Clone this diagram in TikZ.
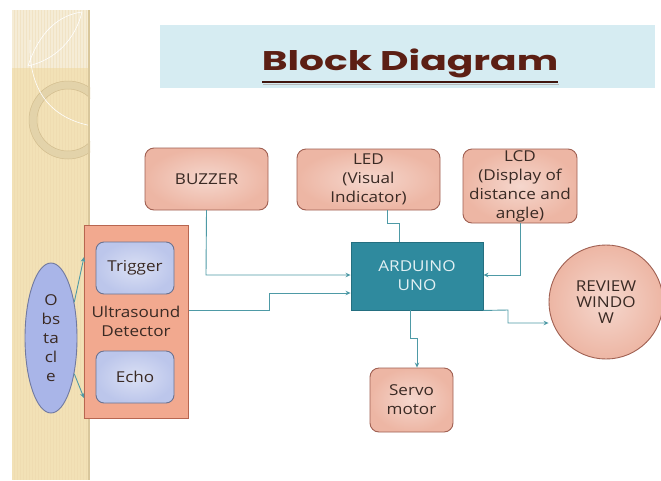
\documentclass[tikz,border=0pt]{standalone}
\usepackage{fontspec}
\setmainfont{Open Sans}[FakeStretch=1.14]
\newfontfamily\titlefont{Poppins}[FakeStretch=1.45]
\usetikzlibrary{arrows.meta,shapes.geometric}
\definecolor{band}{HTML}{F2E1B6}
\definecolor{bandtop}{HTML}{F5ECD6}
\definecolor{bandedge}{HTML}{D9C79C}
\definecolor{ringc}{HTML}{E3D3AA}
\definecolor{ringline}{HTML}{D2BD8E}
\definecolor{titlebg}{HTML}{D6ECF2}
\definecolor{titlefg}{HTML}{5C1F14}
\definecolor{pinkfill}{HTML}{EDB6A4}
\definecolor{pinkline}{HTML}{A06052}
\definecolor{usfill}{HTML}{F2A98F}
\definecolor{usline}{HTML}{B86650}
\definecolor{bluefill}{HTML}{BCC6EB}
\definecolor{blueline}{HTML}{6A7290}
\definecolor{obsfill}{HTML}{A9B5E8}
\definecolor{obsline}{HTML}{7079A0}
\definecolor{unofill}{HTML}{2F8A9E}
\definecolor{unoline}{HTML}{246F80}
\definecolor{unotext}{HTML}{E2F0F3}
\definecolor{wire}{HTML}{4E9AA6}
\definecolor{ink}{HTML}{3A2A24}
\tikzset{
  x=1pt, y=-1pt,
  every node/.style={font=\fontsize{15}{19}\selectfont, text=ink, align=center, inner sep=0pt},
  block/.style={draw=pinkline, line width=0.9pt, rounded corners=9pt,
    inner color=pinkfill!55!white, outer color=pinkfill, minimum width=#1},
  sub/.style={draw=blueline, line width=0.9pt, rounded corners=8pt,
    inner color=bluefill!55!white, outer color=bluefill, minimum width=78pt, minimum height=52pt},
  wireline/.style={draw=wire, line width=0.9pt},
  arr/.style={wireline, -{Stealth[length=5pt,width=4.5pt]}},
}
\begin{document}
\begin{tikzpicture}
\useasboundingbox (0,0) rectangle (661,480);
\fill[white] (0,0) rectangle (661,480);

% decorative side band
\fill[band] (12,10) rectangle (90,480);
\fill[bandtop] (12,10) rectangle (90,68);
\foreach \i in {14,17,...,88} \draw[band!88!brown, line width=0.3pt, opacity=0.35] (\i,10) -- (\i,480);
\begin{scope}
  \clip (12,10) rectangle (90,480);
  \fill[ringc, even odd rule] (68,120) circle (39) (68,120) circle (31);
  \draw[ringline, line width=0.5pt] (68,120) circle (39) (68,120) circle (31);
  \draw[white, line width=0.6pt] (28,66) .. controls (40,30) and (60,15) .. (82,12);
  \draw[white, line width=0.6pt] (28,66) .. controls (55,60) and (75,40) .. (82,12);
  \draw[white, line width=0.6pt] (30,40) .. controls (28,90) and (50,118) .. (92,126);
\end{scope}
\fill[bandedge] (88,10) rectangle (90,480);

% title banner
\fill[titlebg] (160,25) rectangle (655,88);
\node[font=\titlefont\fontsize{27}{30}\selectfont\bfseries, text=titlefg, anchor=base] (title) at (410,70.5) {Block Diagram};
\draw[titlefg!70!black, line width=1.8pt] (262,82) -- (558,82);
\draw[gray!55, line width=0.8pt] (263,84.3) -- (559,84.3);

% blocks
\node[block=123pt, minimum height=62pt] (buzzer) at (206.5,179) {BUZZER};
\node[block=143pt, minimum height=61pt] (led) at (368.5,179.5) {LED\\(Visual\\Indicator)};
\node[block=114pt, minimum height=74pt] (lcd) at (520,186) {LCD\\(Display of\\distance and\\angle)};
\node[draw=unoline, fill=unofill, line width=0.9pt, minimum width=132pt, minimum height=68pt,
      text=unotext] (uno) at (417,276) {ARDUINO\\UNO};
\node[block=83pt, minimum height=64pt] (servo) at (411.5,400) {Servo\\motor};
\node[circle, draw=pinkline, line width=0.9pt, inner color=pinkfill!55!white, outer color=pinkfill,
      minimum size=114pt, font=\fontsize{15}{16}\selectfont] (review) at (606,302) {REVIEW\\WINDO\\W};

% ultrasound detector with its two parts
\node[draw=usline, fill=usfill, line width=1pt, minimum width=104pt, minimum height=193pt] (us) at (136,321.5) {};
\node (uslabel) at (136,321) {Ultrasound\\Detector};
\node[sub] (trigger) at (135,268) {Trigger};
\node[sub] (echo) at (135,377) {Echo};

% obstacle
\node[ellipse, draw=obsline, fill=obsfill, line width=0.9pt, minimum width=52pt, minimum height=150pt] (obs) at (51,338) {O\\bs\\ta\\cl\\e};

% connectors
\coordinate (usin1) at (84,257);
\coordinate (usin2) at (84,398);
\draw[arr] (obs.57) -- (usin1);
\draw[arr] (obs.-57) -- (usin2);
\draw[arr] (buzzer.south |- 0,210) -- (206,275) -- (uno.west |- 0,275);
\draw[arr] (us.east |- 0,310) -- (269,310) -- (269,293) -- (uno.west |- 0,293);
\draw[wireline] (387,210) -- (387,223) -- (399,223) -- (uno.north -| 399,0);
\draw[arr] (lcd.south) -- (520,275) -- (uno.east |- 0,275);
\draw[arr] (410,310) -- (410,338) -- (417,338) -- (servo.north -| 417,0);
\draw[arr] (uno.south east) -- (508,310) -- (508,323) -- (review.west |- 0,323);
\end{tikzpicture}
\end{document}
